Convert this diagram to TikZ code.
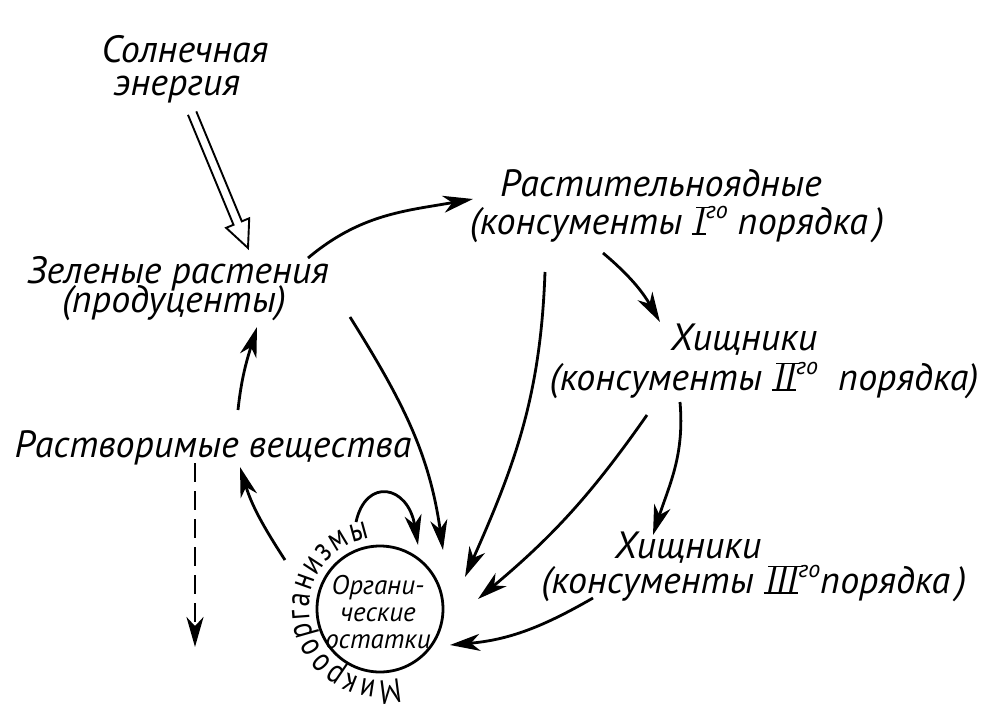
\documentclass[tikz,border=0pt]{standalone}
\usepackage{fontspec}
\setmainfont{PT Sans}
\newfontfamily\labfont{PT Sans}
\newfontfamily\microfont{PT Sans}[FakeStretch=0.8]
\usetikzlibrary{arrows.meta,decorations.text,calc}
% roman numeral with bars above and below (as printed)
\newcommand{\rn}[1]{\setbox0\hbox{\kern1.5pt #1\kern1.5pt}%
  \rlap{\kern-0.5pt\rule[-0.9pt]{\wd0}{1.8pt}}%
  \rlap{\kern4pt\rule[\dimexpr\ht0-0.9pt\relax]{\wd0}{1.8pt}}\box0}
\newcommand{\sups}[1]{\raisebox{0.4em}{\fontsize{24}{24}\selectfont #1}}
\begin{document}
\begin{tikzpicture}[x=1pt,y=1pt,
  lab/.style={font=\labfont\itshape\fontsize{38}{44}\selectfont, inner sep=0pt, anchor=base},
  orglab/.style={font=\labfont\itshape\fontsize{27}{27}\selectfont, inner sep=0pt, align=center},
  arr/.style={line width=2.8pt, -{Stealth[length=30pt,width=17pt,inset=9pt]}},
  dasharr/.style={arr, dash pattern=on 19pt off 9pt},
  openarr/.style={line width=1.9pt, line join=miter},
  ring/.style={draw, circle, line width=2.8pt, minimum size=126pt, inner sep=0pt}
]
\useasboundingbox (0,0) rectangle (1005,-726);

% labels
\node[lab] (sun1) at (185,-62) {Солнечная};
\node[lab] (sun2) at (177,-95) {энергия};
\node[lab] (pl1) at (178,-283) {Зеленые растения};
\node[lab] (pl2) at (174,-312) {(продуценты)};
\node[lab] (hb1) at (661,-196) {Растительноядные};
\node[lab] (hb2) at (677,-234) {(консументы \rn{I}\sups{го} порядка\,)};
\node[lab] (p2a) at (744,-350) {Хищники};
\node[lab] (p2b) at (764,-390) {(консументы \rn{II}\sups{го}\ \ порядка)};
\node[lab] (p3a) at (688,-558) {Хищники};
\node[lab] (p3b) at (754,-593) {(консументы \rn{III}\sups{го}порядка\,)};
\node[lab] (sol) at (213,-457) {Растворимые вещества};

% organic remains
\node[ring] (org) at (380,-609) {};
\node[orglab] (orgtxt) at (378,-612) {Органи-\\ческие\\остатки};
\path[decorate, decoration={text along path,
   text={|\microfont\fontsize{34}{34}\selectfont|Микроорганизмы},
   text align={fit to path}}]
   (org.center) ++(-74:71) arc[start angle=-74, end angle=-262, radius=71];

% solar energy (open double arrow)
\coordinate (sunstart) at ($(sun2.base)+(15,-18)$);
\begin{scope}[shift={($(pl1.base)+(70,35)$)}, rotate=-67.5]
  \draw[openarr] (-146,4.5) -- (-27,4.5) -- (-27,12.5) -- (0,0) -- (-27,-12.5) -- (-27,-4.5) -- (-146,-4.5);
\end{scope}

% connectors
\draw[arr] ($(pl1.base)+(130,25)$) to[out=40,in=190] ($(hb1.base)+(-188,-3)$);
\draw[arr] ($(hb2.base)+(-74,-19)$) to[out=-40,in=120] ($(p2a.base)+(-84,28)$);
\draw[arr] ($(hb2.base)+(-132,-38)$) to[out=-92,in=66] ($(org.center)+(85,32)$);
\draw[arr] ($(p2b.base)+(-117,-25)$) to[out=-125,in=40] ($(org.center)+(98,10)$);
\draw[arr] ($(p2b.base)+(-84,-12)$) to[out=-85,in=72] ($(p3a.base)+(-35,23)$);
\draw[arr] ($(p3b.base)+(-161,-5)$) to[out=-150,in=5] ($(org.center)+(70,-36)$);
\draw[arr] ($(pl2.base)+(176,-5)$) to[out=-58,in=98] ($(org.center)+(63,59)$);
\draw[arr] ($(org.center)+(-24,87)$) .. controls +(10,45) and +(-10,60) .. ($(org.center)+(38,64)$);
\draw[arr] ($(org.center)+(-95,49)$) to[out=123,in=-73] ($(sol.base)+(27,-10)$);
\draw[arr] ($(sol.base)+(25,47)$) to[out=84,in=-107] ($(pl2.base)+(83,-15)$);
\coordinate (drain) at (195,-647);
\draw[dasharr] ($(sol.base)+(-18,-6)$) -- (drain);
\end{tikzpicture}
\end{document}
